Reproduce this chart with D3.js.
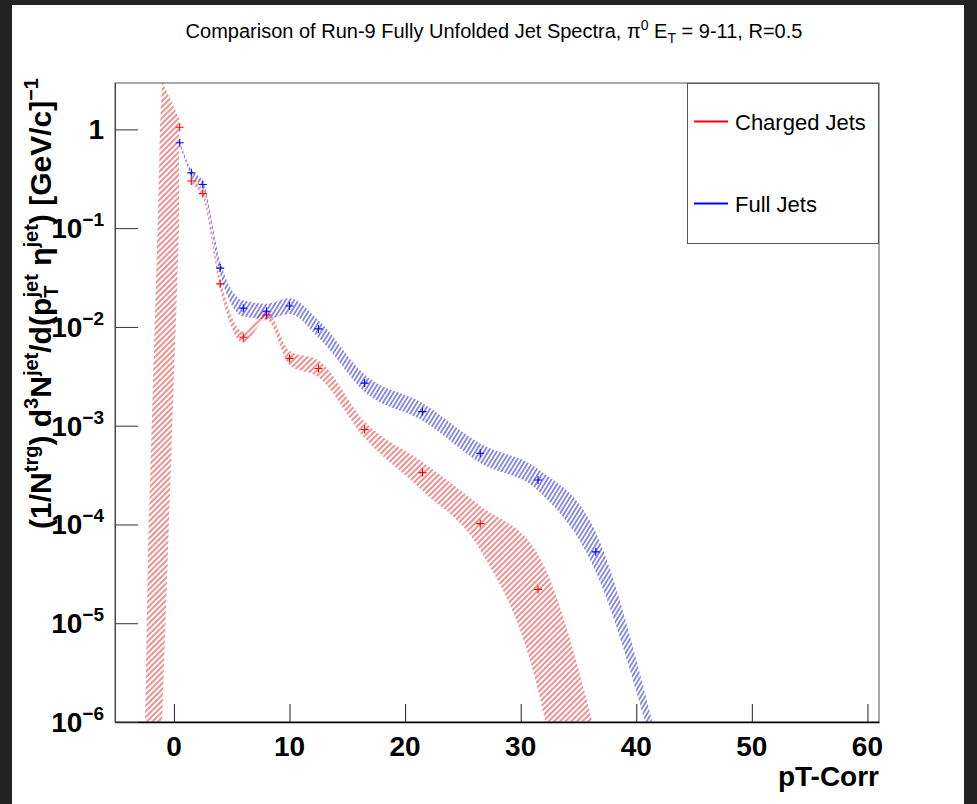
<!DOCTYPE html>
<html>
<head>
<meta charset="utf-8">
<script src="https://cdn.jsdelivr.net/npm/d3@7"></script>
<style>
body { margin: 0; background: #232323; }
svg { display: block; font-family: "Liberation Sans", Arial, sans-serif; }
</style>
</head>
<body>
<svg id="chart" width="977" height="804"></svg>
<script>
// values
var binX = [0.5, 1.5, 2.5, 4, 6, 8, 10, 12.5, 16.5, 21.5, 26.5, 31.5, 36.5];
var chargedY = [1.05, 0.30, 0.224, 0.0273, 0.00785, 0.0132, 0.0048, 0.0038, 9.15e-4, 3.35e-4, 1.02e-4, 2.2e-5];
var fullY = [0.733, 0.363, 0.277, 0.0394, 0.0155, 0.0144, 0.0163, 0.00955, 0.0027, 0.00139, 5.26e-4, 2.82e-4, 5.28e-5];

// systematic bands (lower / upper edge)
var chargedBandX = [1.5, 2.5, 4, 6, 8, 10, 12.5, 16.5, 21.5, 26.5, 31.5, 36.5];
var chargedLo = [0.28, 0.205, 0.024, 0.0069, 0.0118, 0.0041, 0.0031, 7.5e-4, 2.2e-4, 5.5e-5, 2.1e-6, 1e-9];
var chargedHi = [0.33, 0.245, 0.031, 0.0090, 0.0148, 0.0057, 0.0046, 1.1e-3, 4.3e-4, 1.55e-4, 5e-5, 7.5e-7];
var fullBandX = [0.5, 1.5, 2.5, 4, 6, 8, 10, 12.5, 16.5, 21.5, 26.5, 31.5, 36.5, 41.5];
var fullLo = [0.70, 0.34, 0.255, 0.034, 0.0128, 0.0120, 0.0135, 0.0078, 0.0022, 0.00113, 4.2e-4, 2.2e-4, 3.3e-5, 5e-7];
var fullHi = [0.77, 0.39, 0.30, 0.046, 0.0185, 0.0172, 0.0195, 0.0117, 0.0033, 0.0017, 6.6e-4, 3.65e-4, 8.3e-5, 9e-7];

// the charged band spike at low pT (outline)
var spikeX = [0.44, -1.03, -1.20, -1.38, -1.81, -2.24, -2.50, -1.03, 0.44];
var spikeY = [1.30, 3.09, 1.08, 0.143, 2.9e-3, 5.9e-5, 1e-6, 1e-6, 0.096];

var xTicks = [0, 10, 20, 30, 40, 50, 60];
var yTicks = [1, 1e-1, 1e-2, 1e-3, 1e-4, 1e-5, 1e-6];
var yTickExp = [0, -1, -2, -3, -4, -5, -6];

var legendNames = ["Charged Jets", "Full Jets"];
var colors = ["#ff0000", "#0000ff"];

var L = 115, R = 879, T = 83, B = 722;

var svg = d3.select("#chart");
svg.append("rect").attr("x", 12).attr("y", 5).attr("width", 952).attr("height", 799).attr("fill", "#fff");

var x = d3.scaleLinear().domain([-5.1, 61]).range([L, R]);
var y = d3.scaleLog().domain([1e-6, 2.95]).range([B, T]);

var defs = svg.append("defs");
defs.append("clipPath").attr("id", "frame")
  .append("rect").attr("x", L).attr("y", T).attr("width", R - L).attr("height", B - T);

function hatch(id, color, angle, gap, w) {
  var p = defs.append("pattern").attr("id", id)
    .attr("patternUnits", "userSpaceOnUse")
    .attr("width", gap).attr("height", 10)
    .attr("patternTransform", "rotate(" + angle + ")");
  p.append("line").attr("x1", gap / 2).attr("x2", gap / 2).attr("y1", 0).attr("y2", 10)
    .attr("stroke", color).attr("stroke-width", w);
}
hatch("hRed", "#e02424", 45, 4.0, 1.0);
hatch("hBlue", "#2424d8", 32, 3.6, 1.0);

var plot = svg.append("g").attr("clip-path", "url(#frame)");

var area = d3.area()
  .x(d => x(d.x))
  .y0(d => y(d.lo))
  .y1(d => y(d.hi))
  .curve(d3.curveMonotoneX);

function band(xs, lo, hi) {
  return xs.map((v, i) => ({x: v, lo: lo[i], hi: hi[i]}));
}

// red band
plot.append("path")
  .attr("d", d3.line().x(d => x(d)).y((d, i) => y(spikeY[i]))(spikeX) + "Z")
  .attr("fill", "url(#hRed)");
plot.append("path")
  .attr("d", area(band(chargedBandX, chargedLo, chargedHi)))
  .attr("fill", "url(#hRed)");
// blue band
plot.append("path")
  .attr("d", area(band(fullBandX, fullLo, fullHi)))
  .attr("fill", "url(#hBlue)");

// markers
var cross = "M-4,0H4M0,-4V4";
plot.selectAll(".mc").data(chargedY).enter().append("path")
  .attr("transform", (d, i) => "translate(" + x(binX[i]) + "," + y(d) + ")")
  .attr("d", cross).attr("stroke", colors[0]).attr("stroke-width", 1.1);
plot.selectAll(".mf").data(fullY).enter().append("path")
  .attr("transform", (d, i) => "translate(" + x(binX[i]) + "," + y(d) + ")")
  .attr("d", cross).attr("stroke", colors[1]).attr("stroke-width", 1.1);

// frame
svg.append("rect").attr("x", L).attr("y", T).attr("width", R - L).attr("height", B - T)
  .attr("fill", "none").attr("stroke", "#555").attr("stroke-width", 1);

// x axis
var xMinor = d3.range(-4, 61, 2);
var gx = svg.append("g").attr("transform", "translate(0," + B + ")");
gx.call(d3.axisBottom(x).tickValues(xMinor).tickSize(-9).tickSizeOuter(0).tickFormat(""));
gx.call(d3.axisBottom(x).tickValues(xTicks).tickSize(-18).tickSizeOuter(0).tickFormat(""));
gx.selectAll("path.domain").attr("stroke", "#000").attr("stroke-width", 1.6);
gx.selectAll("line").attr("stroke", "#222");

svg.selectAll(".xl").data(xTicks).enter().append("text")
  .attr("x", d => x(d)).attr("y", 756)
  .attr("text-anchor", "middle").attr("font-size", 28).attr("font-weight", "bold")
  .text(d => d);

svg.append("text").attr("x", R).attr("y", 786)
  .attr("text-anchor", "end").attr("font-size", 28).attr("font-weight", "bold")
  .text("pT-Corr");

// y axis
var yMinor = [];
yTicks.forEach(function (t) {
  for (var k = 2; k <= 9; k++) if (t * k < 2.95) yMinor.push(t * k);
});
var gy = svg.append("g").attr("transform", "translate(" + L + ",0)");
gy.call(d3.axisLeft(y).tickValues(yMinor).tickSize(-11).tickSizeOuter(0).tickFormat(""));
gy.call(d3.axisLeft(y).tickValues(yTicks).tickSize(-23).tickSizeOuter(0).tickFormat(""));
gy.selectAll("path.domain").attr("stroke", "#444").attr("stroke-width", 1);
gy.selectAll("line").attr("stroke", "#333");

yTicks.forEach(function (t, i) {
  var tx = svg.append("text")
    .attr("x", 104).attr("y", y(t) + 10)
    .attr("text-anchor", "end").attr("font-size", 28).attr("font-weight", "bold");
  if (yTickExp[i] === 0) {
    tx.text("1");
  } else {
    tx.append("tspan").text("10");
    tx.append("tspan").attr("font-size", 19).attr("dy", -12).text("\u2212" + (-yTickExp[i]));
  }
});

// y title
var yt = svg.append("text")
  .attr("transform", "translate(51,78) rotate(-90)")
  .attr("text-anchor", "end").attr("font-size", 30).attr("font-weight", "bold");
var parts = [
  ["(1/N", 0], ["trg", -1], [") d", 0], ["3", -1], ["N", 0], ["jet", -1],
  ["/d(p", 0], ["T", 1], ["jet", -2], [" \u03b7", 0], ["jet", -1], [") [GeV/c]", 0], ["\u22121", -1]
];
var level = 0;
parts.forEach(function (p) {
  var target = p[1] === -1 || p[1] === -2 ? -13 : (p[1] === 1 ? 7 : 0);
  var s = yt.append("tspan").attr("dy", target - level).text(p[0]);
  if (p[1] !== 0) s.attr("font-size", 20);
  if (p[1] === -2) s.attr("dx", -12);
  level = target;
});

// title
var tt = svg.append("text").attr("x", 494).attr("y", 38)
  .attr("text-anchor", "middle").attr("font-size", 20);
tt.append("tspan").text("Comparison of Run-9 Fully Unfolded Jet Spectra, \u03c0");
tt.append("tspan").attr("font-size", 14).attr("dy", -8).text("0");
tt.append("tspan").attr("dy", 8).text(" E");
tt.append("tspan").attr("font-size", 14).attr("dy", 5).text("T");
tt.append("tspan").attr("dy", -5).text(" = 9-11, R=0.5");

// legend
var lg = svg.append("g");
lg.append("rect").attr("x", 687.5).attr("y", 83.5).attr("width", 191).attr("height", 160)
  .attr("fill", "#fff").attr("stroke", "#555").attr("stroke-width", 1);
var rowsY = [121.5, 203.5];
legendNames.forEach(function (n, i) {
  lg.append("line").attr("x1", 694).attr("x2", 728).attr("y1", rowsY[i]).attr("y2", rowsY[i])
    .attr("stroke", colors[i]).attr("stroke-width", 2);
  lg.append("text").attr("x", 735).attr("y", rowsY[i] + 8.5).attr("font-size", 22).text(n);
});
</script>
</body>
</html>
